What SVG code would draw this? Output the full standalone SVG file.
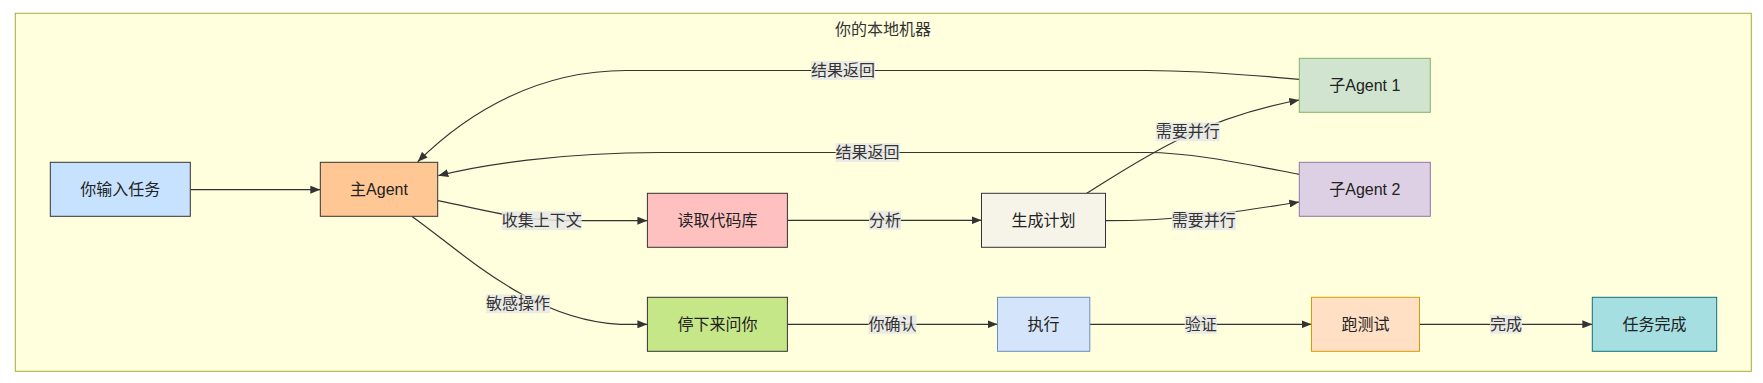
<svg xmlns="http://www.w3.org/2000/svg" width="1763" height="383" viewBox="0 0 1763 383">
<style>
text{font-family:"Liberation Sans","Noto Sans CJK SC",sans-serif;font-size:16px}
.cl{fill:#ffffde;stroke:#aaaa33;stroke-width:1}
.title{fill:#333;text-anchor:middle;dominant-baseline:central}
.n rect{stroke-width:1}
.n text{fill:#222;text-anchor:middle;dominant-baseline:central}
.e{fill:none;stroke:#333;stroke-width:1.2;marker-end:url(#arr)}
.lb rect{fill:#e8e8e8;opacity:0.85}
.lb text{fill:#333;text-anchor:middle;dominant-baseline:central}
</style>
<defs>
<marker id="arr" viewBox="0 0 10 10" refX="10" refY="5" markerUnits="userSpaceOnUse" markerWidth="10" markerHeight="8" preserveAspectRatio="none" orient="auto">
<path d="M0,0 L10,5 L0,10 z" fill="#333"/>
</marker>
</defs>
<rect class="cl" x="15.3" y="13.3" width="1736" height="358"/>
<text class="title" x="883" y="29.5">你的本地机器</text>

<g id="edges">
<path class="e" d="M190.3,189.7 L320.3,189.7"/>
<path class="e" d="M437.7,200.7 C490,211 520,220.7 570,220.7 L647.4,220.7"/>
<path class="e" d="M412.3,216.7 C460,250 530,320 620,324.3 L647.4,324.3"/>
<path class="e" d="M787.4,220.3 L981.5,220.3"/>
<path class="e" d="M1086.7,193.3 C1140,160 1200,118 1299.3,100"/>
<path class="e" d="M1105.5,220.7 C1180,220.7 1230,213 1299.3,202"/>
<path class="e" d="M1299.3,79.3 C1240,74 1190,70.5 1147,70.5 L626,70.5 C540,70.5 470,110 417.7,161.7"/>
<path class="e" d="M1299.3,174.3 C1240,163 1190,152.5 1147,152.5 L660,152.5 C560,152.5 480,165 438.3,175.7"/>
<path class="e" d="M787.4,324.3 L997.5,324.3"/>
<path class="e" d="M1089.8,324.3 L1311.5,324.3"/>
<path class="e" d="M1419.5,324.3 L1592.3,324.3"/>
</g>

<g id="edge-labels">
<g class="lb"><rect x="501.7" y="211.2" width="80" height="19"/><text x="541.7" y="220.7">收集上下文</text></g>
<g class="lb"><rect x="486" y="294.3" width="64" height="19"/><text x="518" y="303.8">敏感操作</text></g>
<g class="lb"><rect x="869" y="210.8" width="32" height="19"/><text x="885" y="220.3">分析</text></g>
<g class="lb"><rect x="1155.7" y="122.2" width="64" height="19"/><text x="1187.7" y="131.7">需要并行</text></g>
<g class="lb"><rect x="1171.8" y="211.2" width="64" height="19"/><text x="1203.8" y="220.7">需要并行</text></g>
<g class="lb"><rect x="811" y="61" width="64" height="19"/><text x="843" y="70.5">结果返回</text></g>
<g class="lb"><rect x="835.6" y="143" width="64" height="19"/><text x="867.6" y="152.5">结果返回</text></g>
<g class="lb"><rect x="868.5" y="314.8" width="48" height="19"/><text x="892.5" y="324.3">你确认</text></g>
<g class="lb"><rect x="1184.7" y="314.8" width="32" height="19"/><text x="1200.7" y="324.3">验证</text></g>
<g class="lb"><rect x="1490" y="314.8" width="32" height="19"/><text x="1506" y="324.3">完成</text></g>
</g>

<g id="n1" class="n"><rect x="50.3" y="162.3" width="140" height="54" fill="#c6e2ff" stroke="#333"/><text x="120.3" y="189.3">你输入任务</text></g>
<g id="n2" class="n"><rect x="320.3" y="162.3" width="117.4" height="54" fill="#ffc794" stroke="#333"/><text x="379" y="189.3">主Agent</text></g>
<g id="n3" class="n"><rect x="647.4" y="193.3" width="140" height="54" fill="#ffc0c0" stroke="#333"/><text x="717.4" y="220.3">读取代码库</text></g>
<g id="n4" class="n"><rect x="981.5" y="193.3" width="124" height="54" fill="#f6f4e9" stroke="#333"/><text x="1043.5" y="220.3">生成计划</text></g>
<g id="n5" class="n"><rect x="1299.3" y="58.3" width="131" height="54" fill="#d0e4cf" stroke="#82b366"/><text x="1364.8" y="85.3">子Agent 1</text></g>
<g id="n6" class="n"><rect x="1299.3" y="162.3" width="131" height="54" fill="#ddcfe4" stroke="#9673a6"/><text x="1364.8" y="189.3">子Agent 2</text></g>
<g id="n7" class="n"><rect x="647.4" y="297.3" width="140" height="54" fill="#c6e788" stroke="#333"/><text x="717.4" y="324.3">停下来问你</text></g>
<g id="n8" class="n"><rect x="997.5" y="297.3" width="92.3" height="54" fill="#d4e4fa" stroke="#6c8ebf"/><text x="1043.6" y="324.3">执行</text></g>
<g id="n9" class="n"><rect x="1311.5" y="297.3" width="108" height="54" fill="#ffe0c4" stroke="#d79b00"/><text x="1365.5" y="324.3">跑测试</text></g>
<g id="n10" class="n"><rect x="1592.3" y="297.3" width="124.4" height="54" fill="#a6dfe2" stroke="#10707c"/><text x="1654.5" y="324.3">任务完成</text></g>
</svg>
